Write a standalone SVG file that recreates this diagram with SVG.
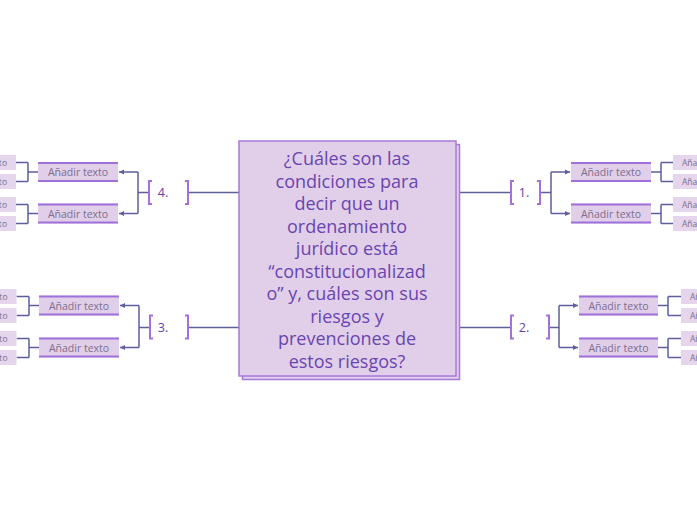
<svg xmlns="http://www.w3.org/2000/svg" width="697" height="520" viewBox="0 0 697 520">
<defs>
<style>
.ln{fill:none;stroke:#5e5e9e;stroke-width:1.5}
.br{fill:none;stroke:#a46fe0;stroke-width:2}
.cf{fill:#e1cfea}
.cb{stroke:#a070da;stroke-width:2}
.gf{fill:#e5d6ed}
.ct{font-family:"Open Sans","Liberation Sans",sans-serif;font-size:10.5px;fill:#7b6e8c;text-anchor:middle}
.gt{font-family:"Open Sans","Liberation Sans",sans-serif;font-size:8.5px;fill:#7b6e8c}
.lb{font-family:"Open Sans","Liberation Sans",sans-serif;font-size:12.5px;fill:#6042a8;text-anchor:middle}
.mt{font-family:"Open Sans","Liberation Sans",sans-serif;font-size:18px;fill:#6a45b0;text-anchor:middle}
</style>
<marker id="ar" markerWidth="6" markerHeight="6" refX="5" refY="3" orient="auto" markerUnits="userSpaceOnUse">
<path d="M0,0.5 L5,3 L0,5.5 Z" fill="#5e5e9e"/>
</marker>
</defs>
<rect width="697" height="520" fill="#ffffff"/>

<g id="connectors">
<path class="ln" d="M456,192.5 H511"/>
<path class="ln" d="M456,327.5 H511"/>
<path class="ln" d="M239,192.5 H188"/>
<path class="ln" d="M239,327.5 H188"/>
<path class="ln" d="M540,192.5 H551 M551,172 V213.5"/>
<path class="ln" d="M551,172 H570" marker-end="url(#ar)"/>
<path class="ln" d="M551,213.5 H570" marker-end="url(#ar)"/>
<path class="ln" d="M651,172 H661 M661,162.5 V181.5 M661,162.5 H673 M661,181.5 H673"/>
<path class="ln" d="M651,213.5 H661 M661,204.5 V223.5 M661,204.5 H673 M661,223.5 H673"/>
<path class="ln" d="M549,327.5 H559 M559,305.5 V347.5"/>
<path class="ln" d="M559,305.5 H578" marker-end="url(#ar)"/>
<path class="ln" d="M559,347.5 H578" marker-end="url(#ar)"/>
<path class="ln" d="M658,305.5 H668 M668,296.5 V315.5 M668,296.5 H681 M668,315.5 H681"/>
<path class="ln" d="M658,347.5 H668 M668,338.5 V357.5 M668,338.5 H681 M668,357.5 H681"/>
<path class="ln" d="M149,192.5 H138 M138,172 V213.5"/>
<path class="ln" d="M138,172 H119" marker-end="url(#ar)"/>
<path class="ln" d="M138,213.5 H119" marker-end="url(#ar)"/>
<path class="ln" d="M38,172 H28 M28,162.5 V181.5 M28,162.5 H16 M28,181.5 H16"/>
<path class="ln" d="M38,213.5 H28 M28,204.5 V223.5 M28,204.5 H16 M28,223.5 H16"/>
<path class="ln" d="M150,327.5 H139 M139,305.5 V347.5"/>
<path class="ln" d="M139,305.5 H120" marker-end="url(#ar)"/>
<path class="ln" d="M139,347.5 H120" marker-end="url(#ar)"/>
<path class="ln" d="M39,305.5 H29 M29,296.5 V315.5 M29,296.5 H16.5 M29,315.5 H16.5"/>
<path class="ln" d="M39,347.5 H29 M29,338.5 V357.5 M29,338.5 H16.5 M29,357.5 H16.5"/>
</g>

<g id="main">
<rect x="242.5" y="144.5" width="217" height="235" fill="#e1cfea" stroke="#a878dc" stroke-width="1.5"/>
<rect x="239" y="141" width="217" height="235" fill="#e1cfea" stroke="#a878dc" stroke-width="1.5"/>
<text class="mt" x="347" y="165">¿Cuáles son las</text>
<text class="mt" x="347" y="187.5">condiciones para</text>
<text class="mt" x="347" y="210">decir que un</text>
<text class="mt" x="347" y="232.5">ordenamiento</text>
<text class="mt" x="347" y="255">jurídico está</text>
<text class="mt" x="347" y="277.5">“constitucionalizad</text>
<text class="mt" x="347" y="300">o” y, cuáles son sus</text>
<text class="mt" x="347" y="322.5">riesgos y</text>
<text class="mt" x="347" y="345">prevenciones de</text>
<text class="mt" x="347" y="367.5">estos riesgos?</text>
</g>

<g id="label1">
<path class="br" d="M514,181 H511 V204 H514 M537,181 H540 V204 H537"/>
<text class="lb" x="524" y="197">1.</text>
</g>
<g id="label2">
<path class="br" d="M514,315.5 H511 V338.5 H514 M546,315.5 H549 V338.5 H546"/>
<text class="lb" x="524" y="332">2.</text>
</g>
<g id="label4">
<path class="br" d="M152,181 H149 V204 H152 M185,181 H188 V204 H185"/>
<text class="lb" x="163" y="197">4.</text>
</g>
<g id="label3">
<path class="br" d="M153,315.5 H150 V338.5 H153 M185,315.5 H188 V338.5 H185"/>
<text class="lb" x="163" y="332">3.</text>
</g>

<g id="c1a"><rect class="cf" x="571" y="162" width="80" height="20"/><path class="cb" d="M571,163 H651 M571,181 H651"/><text class="ct" x="611" y="176">Añadir texto</text></g>
<g id="c1b"><rect class="cf" x="571" y="203.5" width="80" height="20"/><path class="cb" d="M571,204.5 H651 M571,222.5 H651"/><text class="ct" x="611" y="217.5">Añadir texto</text></g>
<g id="c2a"><rect class="cf" x="579" y="295.5" width="79" height="20"/><path class="cb" d="M579,296.5 H658 M579,314.5 H658"/><text class="ct" x="618.5" y="309.5">Añadir texto</text></g>
<g id="c2b"><rect class="cf" x="579" y="337.5" width="79" height="20"/><path class="cb" d="M579,338.5 H658 M579,356.5 H658"/><text class="ct" x="618.5" y="351.5">Añadir texto</text></g>
<g id="c4a"><rect class="cf" x="38" y="162" width="80" height="20"/><path class="cb" d="M38,163 H118 M38,181 H118"/><text class="ct" x="78" y="176">Añadir texto</text></g>
<g id="c4b"><rect class="cf" x="38" y="203.5" width="80" height="20"/><path class="cb" d="M38,204.5 H118 M38,222.5 H118"/><text class="ct" x="78" y="217.5">Añadir texto</text></g>
<g id="c3a"><rect class="cf" x="39" y="295.5" width="80" height="20"/><path class="cb" d="M39,296.5 H119 M39,314.5 H119"/><text class="ct" x="79" y="309.5">Añadir texto</text></g>
<g id="c3b"><rect class="cf" x="39" y="337.5" width="80" height="20"/><path class="cb" d="M39,338.5 H119 M39,356.5 H119"/><text class="ct" x="79" y="351.5">Añadir texto</text></g>

<g id="g1"><rect class="gf" x="673" y="155" width="60" height="15"/><text class="gt" x="682" y="165.5">Añadir texto</text></g>
<g id="g2"><rect class="gf" x="673" y="174" width="60" height="15"/><text class="gt" x="682" y="184.5">Añadir texto</text></g>
<g id="g3"><rect class="gf" x="673" y="197" width="60" height="15"/><text class="gt" x="682" y="207.5">Añadir texto</text></g>
<g id="g4"><rect class="gf" x="673" y="216" width="60" height="15"/><text class="gt" x="682" y="226.5">Añadir texto</text></g>
<g id="g5"><rect class="gf" x="681" y="289" width="60" height="15"/><text class="gt" x="690" y="299.5">Añadir texto</text></g>
<g id="g6"><rect class="gf" x="681" y="308" width="60" height="15"/><text class="gt" x="690" y="318.5">Añadir texto</text></g>
<g id="g7"><rect class="gf" x="681" y="331" width="60" height="15"/><text class="gt" x="690" y="341.5">Añadir texto</text></g>
<g id="g8"><rect class="gf" x="681" y="350" width="60" height="15"/><text class="gt" x="690" y="360.5">Añadir texto</text></g>
<g id="g9"><rect class="gf" x="-44" y="155" width="60" height="15"/><text class="gt" x="7" y="165.5" text-anchor="end">Añadir texto</text></g>
<g id="g10"><rect class="gf" x="-44" y="174" width="60" height="15"/><text class="gt" x="7" y="184.5" text-anchor="end">Añadir texto</text></g>
<g id="g11"><rect class="gf" x="-44" y="197" width="60" height="15"/><text class="gt" x="7" y="207.5" text-anchor="end">Añadir texto</text></g>
<g id="g12"><rect class="gf" x="-44" y="216" width="60" height="15"/><text class="gt" x="7" y="226.5" text-anchor="end">Añadir texto</text></g>
<g id="g13"><rect class="gf" x="-43.5" y="289" width="60" height="15"/><text class="gt" x="7.5" y="299.5" text-anchor="end">Añadir texto</text></g>
<g id="g14"><rect class="gf" x="-43.5" y="308" width="60" height="15"/><text class="gt" x="7.5" y="318.5" text-anchor="end">Añadir texto</text></g>
<g id="g15"><rect class="gf" x="-43.5" y="331" width="60" height="15"/><text class="gt" x="7.5" y="341.5" text-anchor="end">Añadir texto</text></g>
<g id="g16"><rect class="gf" x="-43.5" y="350" width="60" height="15"/><text class="gt" x="7.5" y="360.5" text-anchor="end">Añadir texto</text></g>
</svg>
